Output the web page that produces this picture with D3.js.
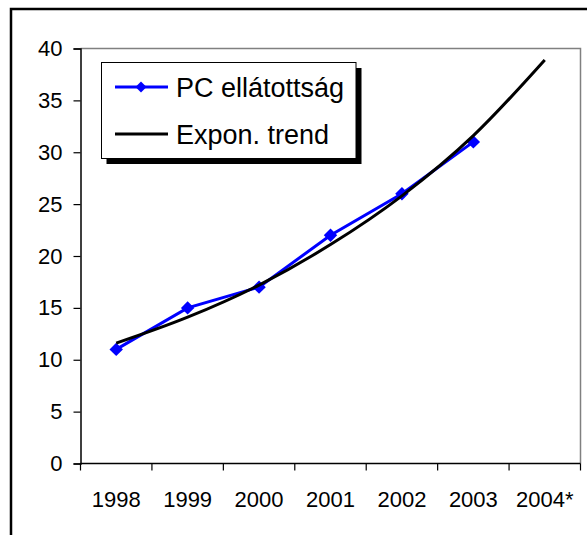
<!DOCTYPE html>
<html><head><meta charset="utf-8">
<script src="https://cdn.jsdelivr.net/npm/d3@7"></script>
<style>
html,body{margin:0;padding:0;background:#fff;overflow:hidden}
svg{display:block;font-family:"Liberation Sans",Arial,sans-serif}
</style></head>
<body>
<script>
const categories = ["1998","1999","2000","2001","2002","2003","2004*"];
const pcValues = [11, 15, 17, 22, 26, 31];
const trendValues = [11.6, 14.1, 17.2, 21.1, 25.8, 31.6, 38.9];
const yTicks = [0,5,10,15,20,25,30,35,40];
const seriesNames = ["PC ellátottság","Expon. trend"];

const W = 587, H = 535;
const svg = d3.select("body").append("svg").attr("width",W).attr("height",H);

// outer frame (extends past right/bottom edges)
svg.append("rect").attr("x",11).attr("y",9).attr("width",600).attr("height",600)
  .attr("fill","#fff").attr("stroke","#000").attr("stroke-width",2.5);

const L = 80.5, R = 580.5, T = 48.5, B = 463.5;
const x = d3.scaleBand().domain(categories).range([L,R]).paddingInner(0).paddingOuter(0);
const y = d3.scaleLinear().domain([0,40]).range([B,T]);

// plot area border (gray)
svg.append("path").attr("d",`M${L},${T}H${R}V${B}`).attr("fill","none")
  .attr("stroke","#808080").attr("stroke-width",1.5);

// y axis
const yAxis = d3.axisLeft(y).tickValues(yTicks).tickSize(7).tickPadding(11).tickFormat(d3.format("d"));
const gy = svg.append("g").attr("transform",`translate(${L},0)`).call(yAxis);
gy.select(".domain").attr("stroke","#000").attr("stroke-width",1.5);
gy.selectAll(".tick line").attr("stroke","#000").attr("stroke-width",1.2);
gy.selectAll(".tick text").attr("font-size",22).attr("fill","#000")
  .attr("font-family","'Liberation Sans',Arial,sans-serif");

// x axis: ticks between categories
const gx = svg.append("g").attr("transform",`translate(0,${B})`);
gx.append("line").attr("x1",L).attr("x2",R).attr("stroke","#000").attr("stroke-width",1.5);
const bounds = categories.map(c=>x(c)).concat([x(categories[categories.length-1])+x.bandwidth()]);
gx.selectAll("line.tk").data(bounds).join("line").attr("class","tk")
  .attr("x1",d=>d).attr("x2",d=>d).attr("y1",0).attr("y2",7)
  .attr("stroke","#000").attr("stroke-width",1.2);
gx.selectAll("text").data(categories).join("text")
  .attr("x",d=>x(d)+x.bandwidth()/2).attr("y",43)
  .attr("text-anchor","middle").attr("font-size",22).attr("fill","#000").text(d=>d);

const cx = (i)=>x(categories[i])+x.bandwidth()/2;

// PC series
const pcLine = d3.line().x((d,i)=>cx(i)).y(d=>y(d));
svg.append("path").datum(pcValues).attr("d",pcLine).attr("fill","none")
  .attr("stroke","#0000ff").attr("stroke-width",3);
const diamond = d3.symbol().type(d3.symbolDiamond2 || d3.symbolSquare2).size(95);
svg.selectAll("path.mk").data(pcValues).join("path").attr("class","mk")
  .attr("transform",(d,i)=>`translate(${cx(i)},${y(d)}) rotate(45)`)
  .attr("d",d3.symbol().type(d3.symbolSquare).size(90)).attr("fill","#0000ff");

// trend
const trLine = d3.line().x((d,i)=>cx(i)).y(d=>y(d)).curve(d3.curveMonotoneX);
svg.append("path").datum(trendValues).attr("d",trLine).attr("fill","none")
  .attr("stroke","#000").attr("stroke-width",3).attr("stroke-linejoin","round");

// legend
const lg = svg.append("g");
lg.append("rect").attr("x",106.5).attr("y",68).attr("width",255).attr("height",96).attr("fill","#000");
lg.append("rect").attr("x",101.5).attr("y",62.5).attr("width",254.5).attr("height",96)
  .attr("fill","#fff").attr("stroke","#000").attr("stroke-width",1);
const items = [{name:seriesNames[0],color:"#0000ff",marker:true,yy:87},{name:seriesNames[1],color:"#000",marker:false,yy:134}];
items.forEach(it=>{
  lg.append("line").attr("x1",115).attr("x2",168).attr("y1",it.yy).attr("y2",it.yy)
    .attr("stroke",it.color).attr("stroke-width",3);
  if(it.marker){
    lg.append("path").attr("transform",`translate(141,${it.yy}) rotate(45)`)
      .attr("d",d3.symbol().type(d3.symbolSquare).size(60)).attr("fill",it.color);
  }
  lg.append("text").attr("x",176).attr("y",it.yy+9.5).attr("font-size",27).attr("fill","#000").text(it.name);
});
</script>
</body></html>
